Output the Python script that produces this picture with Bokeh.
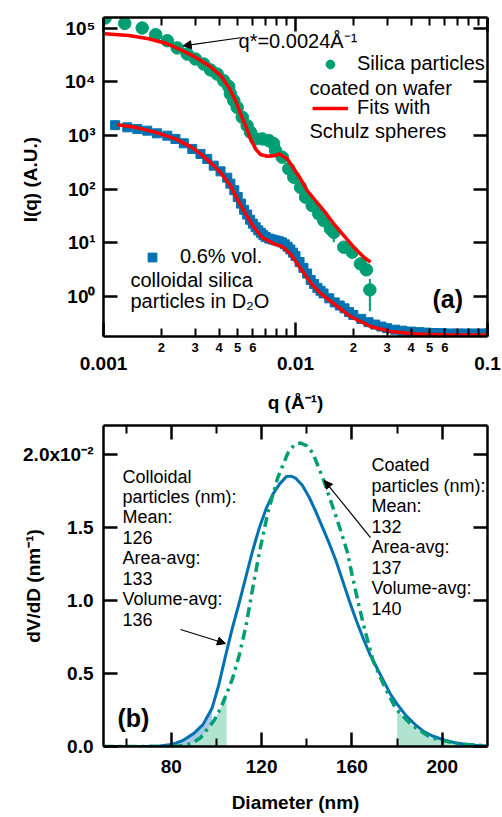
from bokeh.plotting import figure
from bokeh.layouts import column
from bokeh.models import (FixedTicker, LogAxis, LinearAxis, Label, Arrow, NormalHead,
                          Legend, LegendItem, CustomJSTickFormatter, Range1d)
from bokeh.core.properties import value
from bokeh.embed import file_html
from bokeh.resources import INLINE
import numpy as np

# ---------------- panel (a) data ----------------
coated_q = [0.00102, 0.00129, 0.00159, 0.00187, 0.00215, 0.00242, 0.00273, 0.00301, 0.00333,
            0.00361, 0.00391, 0.00423, 0.00449, 0.00458, 0.00477, 0.00497, 0.00528, 0.0056,
            0.00583, 0.00619, 0.00671, 0.00726, 0.00768, 0.00787, 0.00853, 0.00923, 0.0098,
            0.01062, 0.01128, 0.01222, 0.01322, 0.01404, 0.01521, 0.01583, 0.01785, 0.01974,
            0.0218, 0.0234, 0.0244]
coated_I = [1.55e5, 1.23e5, 1.01e5, 7.6e4, 5.85e4, 4.3e4, 3.3e4, 2.67e4, 2.15e4,
            1.67e4, 1.40e4, 1.05e4, 8.2e3, 6.0e3, 4.5e3, 3.35e3, 2.2e3, 1.53e3,
            1150, 870, 865, 805, 710, 525, 395, 240, 167,
            108, 71, 49.5, 34.7, 26, 18.2, 15.7, 8.3, 6.7,
            4.06, 3.14, 1.33]
coated_err = [0] * 33 + [5.4, 0, 0, 0, 0, 0.8]

fit_coated_q = [0.001016, 0.001355, 0.00172, 0.00215, 0.00257, 0.00301, 0.00354, 0.00407,
                0.00449, 0.00487, 0.00517, 0.00549, 0.00583, 0.00619, 0.00657, 0.00712,
                0.00787, 0.00819, 0.00905, 0.0098, 0.01062, 0.0115, 0.0127, 0.01404,
                0.01583, 0.01785, 0.0201, 0.0227, 0.0246]
fit_coated_I = [7.87e4, 7.33e4, 6.36e4, 5.13e4, 3.85e4, 2.89e4, 2.02e4, 1.31e4,
                7960, 4500, 2540, 1540, 869, 566, 443, 412,
                425, 457, 369, 240, 156, 94.6, 61.6, 40.1,
                22.7, 13.7, 8.3, 5.4, 4.36]

colloid_q = [0.00115, 0.00133, 0.0015, 0.00169, 0.0019, 0.00215, 0.00237, 0.00262, 0.0029,
             0.0032, 0.00347, 0.00375, 0.00407, 0.00441, 0.00458, 0.0048, 0.005, 0.0052,
             0.0054, 0.0056, 0.0058, 0.006, 0.0062, 0.0064, 0.0066, 0.0068, 0.007, 0.0073,
             0.0076, 0.0079, 0.0082, 0.0085, 0.0088, 0.0091, 0.0094, 0.0097, 0.01, 0.0105,
             0.011, 0.0115, 0.012, 0.0125, 0.013, 0.0135, 0.014, 0.015, 0.016, 0.017, 0.018,
             0.019, 0.02, 0.022, 0.024, 0.026, 0.028, 0.030, 0.033, 0.036, 0.04, 0.044,
             0.048, 0.053, 0.058, 0.064, 0.07, 0.077, 0.085, 0.093, 0.1]
colloid_I = [1560, 1422, 1327, 1234, 1099, 996, 865, 716, 563,
             454, 367, 275, 215, 164, 127, 95.8, 71.6, 53.9,
             41.2, 33.7, 27.0, 22.8, 19.6, 17.1, 15.4, 13.9, 12.8, 12.0,
             11.5, 11.1, 10.7, 10.2, 9.38, 8.46, 7.53, 6.57, 5.68, 4.41,
             3.41, 2.68, 2.04, 1.71, 1.45, 1.28, 1.14, 0.925, 0.776, 0.68, 0.602,
             0.514, 0.452, 0.383, 0.332, 0.30, 0.275, 0.257, 0.241, 0.231, 0.222, 0.217,
             0.213, 0.209, 0.208, 0.205, 0.205, 0.205, 0.205, 0.205, 0.205]

fit_colloid_q = [0.00118, 0.00147, 0.00187, 0.00237, 0.00284, 0.0032, 0.00361, 0.00407,
                 0.00458, 0.00499, 0.00549, 0.00604, 0.00671, 0.00756, 0.00853, 0.00942,
                 0.01062, 0.01197, 0.01349, 0.01578, 0.01933, 0.0246, 0.0312, 0.0432,
                 0.0641, 0.1]
fit_colloid_I = [1596, 1422, 1148, 865, 621, 460, 313, 204,
                 117, 64, 35.1, 20.1, 12.6, 9.9, 8.53, 6.19,
                 3.32, 1.82, 1.14, 0.741, 0.424, 0.276, 0.223, 0.200,
                 0.192, 0.192]

q_major = [0.001, 0.01, 0.1]
q_major_labels = ["0.001", "0.01", "0.1"]
q_minor = [0.002, 0.003, 0.004, 0.005, 0.006, 0.007, 0.008, 0.009,
           0.02, 0.03, 0.04, 0.05, 0.06, 0.07, 0.08, 0.09]
q_minor_label_pos = [0.002, 0.003, 0.004, 0.005, 0.006, 0.02, 0.03, 0.04, 0.05, 0.06]
q_minor_labels = ["2", "3", "4", "5", "6", "2", "3", "4", "5", "6"]
I_ticks = [1, 10, 100, 1000, 10000, 100000]
I_tick_labels = ["10⁰", "10¹", "10²", "10³", "10⁴", "10⁵"]

# ---------------- panel (b) data ----------------
diam_col = [50, 60, 70, 75, 80, 85, 90, 94, 98, 101, 104, 107, 110, 113, 116, 119, 122, 125,
            128, 131, 133, 135, 138, 141, 144, 147, 150, 153, 156, 159, 162, 165, 168, 171,
            174, 177, 180, 184, 188, 192, 196, 200, 205, 210, 215, 220]
dv_col = [0.0, 0.000002, 0.00001, 0.00004, 0.00013, 0.0004, 0.0009, 0.0015, 0.0026, 0.0042,
          0.0062, 0.0081, 0.0098, 0.0116, 0.0134, 0.0150, 0.0163, 0.0173,
          0.0180, 0.0185, 0.01853, 0.0184, 0.0179, 0.0171, 0.0161, 0.0150, 0.0139, 0.0127,
          0.0113, 0.0099, 0.0086, 0.0074, 0.0063, 0.0054,
          0.0045, 0.0036, 0.0029, 0.0021, 0.0015, 0.0010, 0.0007, 0.00048, 0.00028, 0.00015,
          0.00008, 0.00004]
diam_coat = [50, 60, 70, 80, 84, 87, 90, 93, 96, 99, 101.8, 104.5, 107, 110, 113, 116, 119,
             122.7, 127.1, 131.6, 134.5, 137.3, 140, 142.7, 147.1, 152, 155, 158, 160, 163,
             166, 169.3, 173.8, 178.7, 180, 186.2, 195, 207, 220]
dv_coat = [0.0, 0.0, 0.0, 0.00001, 0.00005, 0.00012, 0.0003, 0.0006, 0.0012, 0.0018, 0.0026,
           0.0036, 0.0046, 0.0062, 0.0082, 0.0108, 0.0133,
           0.0160, 0.0184, 0.0201, 0.0207, 0.0208, 0.0206, 0.0201, 0.0184, 0.0162, 0.0148,
           0.0133, 0.0118, 0.0097,
           0.0078, 0.0059, 0.0043, 0.0028, 0.0025, 0.0015, 0.0006, 0.00018, 0.00004]
col_tail_max = 98
coat_tail_max = 104.5
coat_tail_min = 180
d_major = [80, 120, 160, 200]
d_minor = [60, 100, 140, 180]
v_ticks = [0, 0.005, 0.01, 0.015, 0.02]
v_tick_labels = ["0.0", "0.5", "1.0", "1.5", "2.0x10⁻²"]
left_lines = ["Colloidal", "particles (nm):", "Mean:", "126", "Area-avg:", "133",
              "Volume-avg:", "136"]
right_lines = ["Coated", "particles (nm):", "Mean:", "132", "Area-avg:", "137",
               "Volume-avg:", "140"]

GREEN = "#009E73"
BLUE = "#0072B2"
RED = "#FF0000"
FONT = "Liberation Sans"


def label_fmt(ticks, labels):
    return CustomJSTickFormatter(args=dict(t=list(ticks), l=list(labels)), code="""
        for (let i = 0; i < t.length; i++) {
            if (Math.abs(t[i] - tick) <= 1e-9 * Math.abs(t[i])) return l[i];
        }
        return '';
    """)


def blank_fmt():
    return CustomJSTickFormatter(code="return '';")


def style(ax):
    ax.axis_line_width = 2.5
    ax.axis_line_color = "black"
    ax.major_tick_line_width = 2.5
    ax.minor_tick_line_width = 2
    ax.major_tick_line_color = "black"
    ax.minor_tick_line_color = "black"
    ax.major_tick_in = 14
    ax.major_tick_out = 0
    ax.minor_tick_in = 8
    ax.minor_tick_out = 0
    ax.major_label_text_font = FONT
    ax.major_label_text_font_style = "bold"
    ax.major_label_text_font_size = "19px"
    ax.major_label_text_color = "black"
    ax.axis_label_text_font = FONT
    ax.axis_label_text_font_style = "bold"
    ax.axis_label_text_font_size = "19px"
    ax.axis_label_text_color = "black"


def mirror(ax):
    style(ax)
    ax.major_label_text_font_size = "0px"
    ax.major_label_standoff = 0


def add_text(p, x, y, text, size="20px", bold=False, align="left", x_off=0, y_off=0):
    p.add_layout(Label(x=x, y=y, text=text, text_font=FONT, text_font_size=size,
                       text_font_style="bold" if bold else "normal", text_align=align,
                       text_baseline="middle", x_offset=x_off, y_offset=y_off,
                       text_color="black"))


# ================= panel (a) =================
p1 = figure(width=502, height=418, x_axis_type="log", y_axis_type="log",
            x_range=Range1d(0.001, 0.1), y_range=Range1d(10 ** -0.745, 10 ** 5.2),
            output_backend="svg", toolbar_location=None,
            min_border_left=103, min_border_right=15, min_border_top=17, min_border_bottom=82,
            y_axis_label="I(q)  (A.U.)")
p1.grid.visible = False
p1.outline_line_color = None

xa = p1.below[0]
style(xa)
xa.ticker = FixedTicker(ticks=q_major, minor_ticks=q_minor)
xa.formatter = label_fmt(q_major, q_major_labels)
xa.major_label_standoff = 20

# second bottom axis: small labels of the minor ticks, pulled up under the frame
xa2 = LogAxis(ticker=FixedTicker(ticks=q_minor_label_pos, minor_ticks=[]),
              formatter=label_fmt(q_minor_label_pos, q_minor_labels),
              axis_label="q (Å⁻¹)")
style(xa2)
xa2.axis_line_color = None
xa2.major_tick_line_color = None
xa2.minor_tick_line_color = None
xa2.major_tick_in = 0
xa2.minor_tick_in = 0
xa2.major_label_text_font_size = "13px"
xa2.major_label_standoff = -30
xa2.axis_label_standoff = 37
p1.add_layout(xa2, "below")

ya = p1.left[0]
style(ya)
ya.ticker = FixedTicker(ticks=I_ticks, minor_ticks=[])
ya.formatter = label_fmt(I_ticks, I_tick_labels)
ya.major_label_standoff = 8
ya.axis_label_standoff = 21

ta = LogAxis(ticker=FixedTicker(ticks=q_major, minor_ticks=q_minor), formatter=blank_fmt())
mirror(ta)
p1.add_layout(ta, "above")
ra = LogAxis(ticker=FixedTicker(ticks=I_ticks, minor_ticks=[]), formatter=blank_fmt())
mirror(ra)
p1.add_layout(ra, "right")

r_col = p1.scatter(colloid_q, colloid_I, marker="square", size=9, fill_color=BLUE,
                   line_color=BLUE)
cq = np.array(coated_q)
cI = np.array(coated_I)
ce = np.array(coated_err)
m = ce > 0
p1.segment(cq[m], cI[m] - ce[m], cq[m], cI[m] + ce[m], line_color=GREEN, line_width=2)
r_coat = p1.scatter(coated_q, coated_I, marker="circle", size=12.5, fill_color=GREEN,
                    line_color=GREEN)
r_fit = p1.line(fit_coated_q, fit_coated_I, line_color=RED, line_width=3.5)
p1.line(fit_colloid_q, fit_colloid_I, line_color=RED, line_width=3.5)

leg1 = Legend(items=[LegendItem(label=value("Silica particles"), renderers=[r_coat]),
                     LegendItem(label=value("Fits with"), renderers=[r_fit])],
              location=(209, 217), glyph_width=36, glyph_height=22, label_height=22,
              label_standoff=9, spacing=21, padding=0, margin=0,
              border_line_color=None, background_fill_alpha=0,
              label_text_font=FONT, label_text_font_size="20px", label_text_color="black")
p1.add_layout(leg1)
leg2 = Legend(items=[LegendItem(label=value("0.6% vol."), renderers=[r_col])],
              location=(31, 68), glyph_width=36, glyph_height=22, label_height=22,
              label_standoff=10, padding=0, margin=0,
              border_line_color=None, background_fill_alpha=0,
              label_text_font=FONT, label_text_font_size="20px", label_text_color="black")
p1.add_layout(leg2)

add_text(p1, 0.01183, 7800, "coated on wafer")
add_text(p1, 0.01183, 1234, "Schulz spheres")
add_text(p1, 0.001382, 2.07, "colloidal silica")
add_text(p1, 0.001382, 0.842, "particles in D₂O")
add_text(p1, 0.00505, 5.85e4, "q*=0.0024Å⁻¹")
add_text(p1, 0.0517, 0.918, "(a)", size="25px", bold=True)
p1.add_layout(Arrow(end=NormalHead(size=8, fill_color="black", line_color="black", line_width=1),
                    x_start=0.00517, y_start=6.65e4, x_end=0.0026, y_end=4.7e4,
                    line_color="black", line_width=1.2))

# ================= panel (b) =================
p2 = figure(width=502, height=399, x_range=Range1d(50, 220), y_range=Range1d(0, 0.022),
            output_backend="svg", toolbar_location=None,
            min_border_left=103, min_border_right=15, min_border_top=7, min_border_bottom=71,
            x_axis_label="Diameter (nm)", y_axis_label="dV/dD (nm⁻¹)")
p2.grid.visible = False
p2.outline_line_color = None
xb = p2.below[0]
style(xb)
xb.ticker = FixedTicker(ticks=d_major, minor_ticks=d_minor)
xb.major_label_standoff = 13
xb.axis_label_standoff = 16
yb = p2.left[0]
style(yb)
yb.ticker = FixedTicker(ticks=v_ticks, minor_ticks=[])
yb.formatter = label_fmt(v_ticks, v_tick_labels)
yb.major_label_standoff = 10
yb.axis_label_standoff = -24
tb = LinearAxis(ticker=FixedTicker(ticks=d_major, minor_ticks=d_minor), formatter=blank_fmt())
mirror(tb)
p2.add_layout(tb, "above")
rb = LinearAxis(ticker=FixedTicker(ticks=v_ticks, minor_ticks=[]), formatter=blank_fmt())
mirror(rb)
p2.add_layout(rb, "right")

dc = np.array(diam_col, dtype=float)
vc = np.array(dv_col, dtype=float)
dg = np.array(diam_coat, dtype=float)
vg = np.array(dv_coat, dtype=float)
mc = dc <= col_tail_max
p2.varea(x=dc[mc], y1=np.zeros(mc.sum()), y2=vc[mc], fill_color="#a9c8e8")
mg = dg <= coat_tail_max
p2.varea(x=dg[mg], y1=np.zeros(mg.sum()), y2=vg[mg], fill_color="#b2e2d0")
mg2 = dg >= coat_tail_min
p2.varea(x=dg[mg2], y1=np.zeros(mg2.sum()), y2=vg[mg2], fill_color="#b2e2d0")
p2.line(diam_col, dv_col, line_color=BLUE, line_width=3)
p2.line(diam_coat, dv_coat, line_color=GREEN, line_width=3.5, line_dash="10 5 3 5")

for i, t in enumerate(left_lines):
    add_text(p2, 58.4, 0.0185, t, size="18px", y_off=-20.4 * i)
for i, t in enumerate(right_lines):
    add_text(p2, 168.6, 0.01926, t, size="18px", y_off=-20.4 * i)
add_text(p2, 56.2, 0.00192, "(b)", size="25px", bold=True)
p2.add_layout(Arrow(end=NormalHead(size=8, fill_color="black", line_color="black", line_width=1),
                    x_start=84.1, y_start=0.00802, x_end=104.0, y_end=0.00706,
                    line_color="black", line_width=1.2))
p2.add_layout(Arrow(end=NormalHead(size=8, fill_color="black", line_color="black", line_width=1),
                    x_start=168.2, y_start=0.01432, x_end=147.8, y_end=0.01823,
                    line_color="black", line_width=1.2))

layout = column(p1, p2, spacing=0)
open("out.html", "w").write(file_html(layout, INLINE))
